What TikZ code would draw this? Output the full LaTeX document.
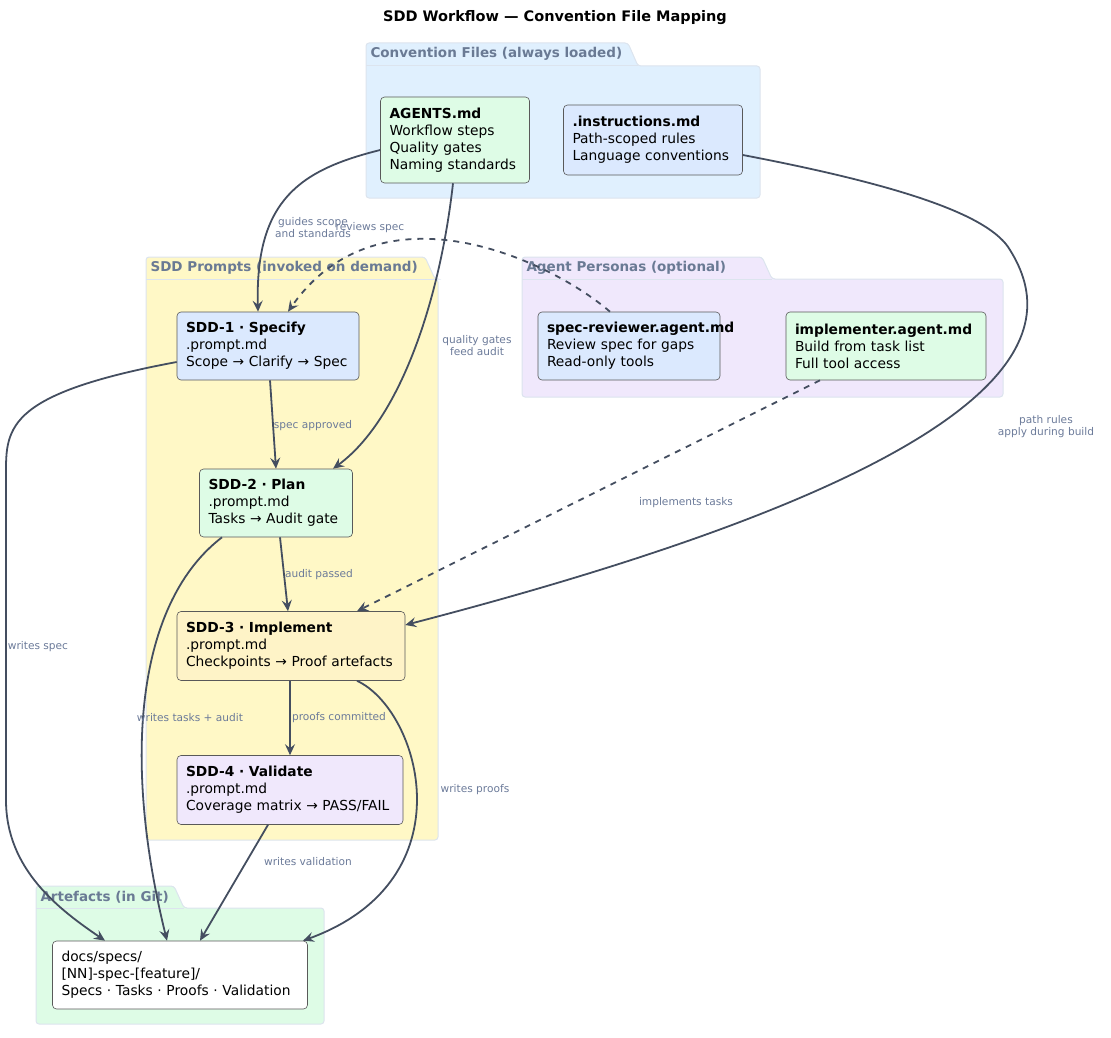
\documentclass[tikz,border=0pt]{standalone}
\usepackage{fontspec}
\setmainfont{DejaVu Sans}
\usetikzlibrary{arrows.meta}
\definecolor{edge}{HTML}{444E60}
\definecolor{lab}{HTML}{6B7A99}
\definecolor{pk}{HTML}{6A7A94}
\definecolor{pb}{HTML}{DCE4EE}
\definecolor{cgreen}{HTML}{DEFCE6}
\definecolor{cblue}{HTML}{DBE9FE}
\definecolor{cyellow}{HTML}{FEF3C7}
\definecolor{cpurple}{HTML}{F0E8FC}
\definecolor{pconv}{HTML}{E0F0FE}
\definecolor{pprompt}{HTML}{FFF8C6}
\definecolor{ppers}{HTML}{F0E8FC}
\definecolor{part}{HTML}{DEFCE6}
\begin{document}
\begin{tikzpicture}[x=1pt,y=-1pt,
  box/.style={draw=black!65,rounded corners=4pt,line width=0.6pt,align=left,inner sep=0pt,
    font=\fontsize{13.8}{17}\selectfont},
  arr/.style={draw=edge,line width=1.8pt,-{Stealth[length=11pt,width=10pt,inset=4pt]}},
  dsh/.style={arr,dash pattern=on 6pt off 6pt},
  lbl/.style={text=lab,font=\fontsize{10.6}{12}\selectfont,align=center,inner sep=1pt},
  ptab/.style={text=pk,font=\bfseries\fontsize{13.5}{15}\selectfont,anchor=west}]
\useasboundingbox (0,0) rectangle (1111,1038);
\node[font=\bfseries\fontsize{14.5}{16}\selectfont] (title) at (555,18) {SDD Workflow — Convention File Mapping};
\newcommand{\pkg}[7]{%
  \fill[#7,draw=pb,line width=1pt,rounded corners=3pt] (#1,#2) -- (#3,#2) -- (#3+10,#4) -- (#5,#4) -- (#5,#6) -- (#1,#6) -- cycle;
  \draw[pb,line width=1pt] (#1,#4) -- (#3+10,#4);}
\pkg{366}{43}{628}{66}{760}{198}{pconv}
\pkg{146}{257}{425}{279}{438}{840}{pprompt}
\pkg{522}{257}{762}{279}{1003}{397}{ppers}
\pkg{36}{886}{174}{908}{324}{1024}{part}
\node[ptab] (t1) at (367,54) {Convention Files (always loaded)};
\node[ptab] (t2) at (147,268) {SDD Prompts (invoked on demand)};
\node[ptab] (t3) at (523,268) {Agent Personas (optional)};
\node[ptab] (t4) at (37,897) {Artefacts (in Git)};
\node[box,fill=cgreen,minimum width=149pt,minimum height=86pt,text width=131pt] (agents) at (455,140) {\textbf{AGENTS.md}\\Workflow steps\\Quality gates\\Naming standards};
\node[box,fill=cblue,minimum width=179pt,minimum height=70pt,text width=161pt] (instr) at (653,140) {\textbf{.instructions.md}\\\mbox{Path-scoped rules}\\\mbox{Language conventions}};
\node[box,fill=cblue,minimum width=182pt,minimum height=68pt,text width=164pt] (s1) at (268,346) {\textbf{SDD-1 · Specify}\\.prompt.md\\\mbox{Scope → Clarify → Spec}};
\node[box,fill=cgreen,minimum width=153pt,minimum height=68pt,text width=135pt] (s2) at (276,503) {\textbf{SDD-2 · Plan}\\.prompt.md\\\mbox{Tasks → Audit gate}};
\node[box,fill=cyellow,minimum width=228pt,minimum height=69pt,text width=210pt] (s3) at (291,646) {\textbf{SDD-3 · Implement}\\.prompt.md\\\mbox{Checkpoints → Proof artefacts}};
\node[box,fill=cpurple,minimum width=226pt,minimum height=69pt,text width=208pt] (s4) at (290,790) {\textbf{SDD-4 · Validate}\\.prompt.md\\\mbox{Coverage matrix → PASS/FAIL}};
\node[box,fill=cblue,minimum width=182pt,minimum height=68pt,text width=164pt] (rev) at (629,346) {\mbox{\textbf{spec-reviewer.agent.md}}\\\mbox{Review spec for gaps}\\Read-only tools};
\node[box,fill=cgreen,minimum width=200pt,minimum height=68pt,text width=182pt] (imp) at (886,346) {\mbox{\textbf{implementer.agent.md}}\\\mbox{Build from task list}\\Full tool access};
\node[box,fill=white,minimum width=255pt,minimum height=68pt,text width=237pt] (docs) at (180,975) {docs/specs/\\{}[NN]-spec-[feature]/\\\mbox{Specs · Tasks · Proofs · Validation}};
\draw[arr] (agents.west |- 0,150) .. controls (300,170) and (255,200) .. (s1.north -| 258,0);
\draw[arr] (agents.south -| 453,0) .. controls (440,300) and (400,420) .. (s2.north -| 333,0);
\draw[arr] (instr.east |- 0,155) .. controls (900,185) and (990,215) .. (1010,250) .. controls (1060,330) and (1040,460) .. (s3.east |- 0,625);
\draw[dsh] (rev.north -| 610,0) .. controls (550,260) and (380,180) .. (s1.north -| 288,0);
\draw[dsh] (imp.south -| 820,0) -- (s3.north -| 357,0);
\draw[arr] (s1.south -| 270,0) -- (s2.north -| 276,0);
\draw[arr] (s2.south -| 280,0) -- (s3.north -| 288,0);
\draw[arr] (s3.south -| 290,0) -- (s4.north -| 290,0);
\draw[arr] (s1.west |- 0,362) .. controls (0,395) and (6,430) .. (6,480) -- (6,800) .. controls (6,870) and (60,910) .. (docs.north -| 105,0);
\draw[arr] (s2.south -| 222,0) .. controls (140,600) and (120,750) .. (docs.north -| 167,0);
\draw[arr] (s3.south -| 357,0) .. controls (420,710) and (470,880) .. (docs.north -| 303,0);
\draw[arr] (s4.south -| 268,0) -- (docs.north -| 200,0);
\node[lbl] (l1) at (313,228) {guides scope\\and standards};
\node[lbl] (l2) at (477,346) {quality gates\\feed audit};
\node[lbl] (l3) at (1046,427) {path rules\\apply during build};
\node[lbl] (l4) at (370,228) {reviews spec};
\node[lbl] (l5) at (686,503) {implements tasks};
\node[lbl] (l6) at (313,426) {spec approved};
\node[lbl] (l7) at (319,575) {audit passed};
\node[lbl] (l8) at (339,718) {proofs committed};
\node[lbl] (l9) at (38,647) {writes spec};
\node[lbl] (l10) at (190,718) {writes tasks + audit};
\node[lbl] (l11) at (475,790) {writes proofs};
\node[lbl] (l12) at (308,862) {writes validation};
\end{tikzpicture}
\end{document}
